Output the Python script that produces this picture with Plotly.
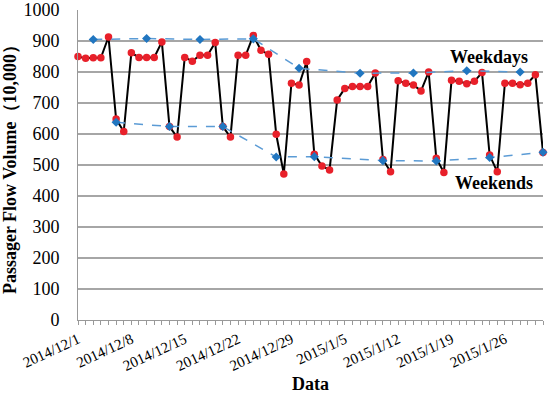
import pandas as pd
import plotly.graph_objects as go

# Daily passenger flow (10,000), 2014/12/1 .. 2015/1/31
start_date = "2014-12-01"
daily_values = [
    850, 844, 846, 846, 913, 648, 608,
    862, 847, 847, 847, 897, 624, 590,
    847, 835, 854, 854, 895, 624, 590,
    854, 854, 918, 870, 857, 599, 471,
    764, 758, 834, 535, 497, 484, 710,
    747, 753, 753, 753, 797, 518, 478,
    772, 764, 758, 739, 800, 522, 476,
    773, 770, 762, 770, 798, 532, 478,
    764, 764, 759, 764, 791, 540,
]
dates = pd.date_range(start_date, periods=len(daily_values), freq="D")

# Weekly weekday averages
weekday_dates = ["2014-12-03", "2014-12-10", "2014-12-17", "2014-12-24", "2014-12-30",
                 "2015-01-07", "2015-01-14", "2015-01-21", "2015-01-28"]
weekday_values = [905, 908, 905, 907, 812, 796, 797, 804, 800]

# Weekly weekend averages
weekend_dates = ["2014-12-06", "2014-12-13", "2014-12-20", "2014-12-27", "2015-01-01",
                 "2015-01-10", "2015-01-17", "2015-01-24", "2015-01-31"]
weekend_values = [638, 624, 624, 526, 527, 514, 513, 524, 541]

tick_dates = ["2014-12-01", "2014-12-08", "2014-12-15", "2014-12-22", "2014-12-29",
              "2015-01-05", "2015-01-12", "2015-01-19", "2015-01-26"]
tick_labels = ["2014/12/1", "2014/12/8", "2014/12/15", "2014/12/22", "2014/12/29",
               "2015/1/5", "2015/1/12", "2015/1/19", "2015/1/26"]

serif = "Liberation Serif, Times New Roman, serif"

fig = go.Figure()
fig.add_trace(go.Scatter(
    x=dates, y=daily_values, mode="lines+markers",
    line=dict(color="black", width=2),
    marker=dict(color="#E8202A", size=7.5, symbol="circle"),
    showlegend=False, cliponaxis=False,
))
fig.add_trace(go.Scatter(
    x=pd.to_datetime(weekday_dates), y=weekday_values, mode="lines+markers",
    line=dict(color="#5B9BD5", width=1.5, dash="dash"),
    marker=dict(color="#2176C0", size=7, symbol="diamond"),
    showlegend=False, cliponaxis=False,
))
fig.add_trace(go.Scatter(
    x=pd.to_datetime(weekend_dates), y=weekend_values, mode="lines+markers",
    line=dict(color="#5B9BD5", width=1.5, dash="dash"),
    marker=dict(color="#2176C0", size=7, symbol="diamond"),
    showlegend=False, cliponaxis=False,
))

fig.add_annotation(x=pd.Timestamp("2015-01-23 22:00"), y=850, text="<b>Weekdays</b>",
                   showarrow=False, font=dict(family=serif, size=18, color="black"))
fig.add_annotation(x=pd.Timestamp("2015-01-24 14:00"), y=442, text="<b>Weekends</b>",
                   showarrow=False, font=dict(family=serif, size=18, color="black"))

fig.update_layout(
    width=550, height=399,
    margin=dict(l=78, r=7, t=10, b=79, autoexpand=False),
    paper_bgcolor="white", plot_bgcolor="white",
    font=dict(family=serif, color="black"),
)
fig.update_xaxes(
    automargin=False,
    range=[dates[0], dates[-1]],
    tickvals=pd.to_datetime(tick_dates), ticktext=tick_labels,
    tickangle=-25, tickfont=dict(family=serif, size=15, color="black"),
    ticks="outside", ticklen=4, tickcolor="#999999",
    minor=dict(dtick=86400000, ticks="outside", ticklen=4, tickcolor="#999999", showgrid=False),
    showline=True, linecolor="#999999", linewidth=1,
    showgrid=False, zeroline=False,
    title=dict(text="<b>Data</b>", font=dict(family=serif, size=18, color="black"), standoff=4),
)
fig.update_yaxes(
    automargin=False,
    range=[0, 1000], dtick=100,
    tickfont=dict(family=serif, size=18, color="black"),
    showline=True, linecolor="#999999", linewidth=1,
    showgrid=True, gridcolor="#A6A6A6", gridwidth=1.5,
    zeroline=False, ticklabelstandoff=14,
    title=dict(text="<b>Passager Flow Volume（10,000）</b>",
               font=dict(family=serif, size=18, color="black"), standoff=4),
)

fig.write_html("out.html", config={"displayModeBar": False},
               post_script="document.body.style.margin='0';")
